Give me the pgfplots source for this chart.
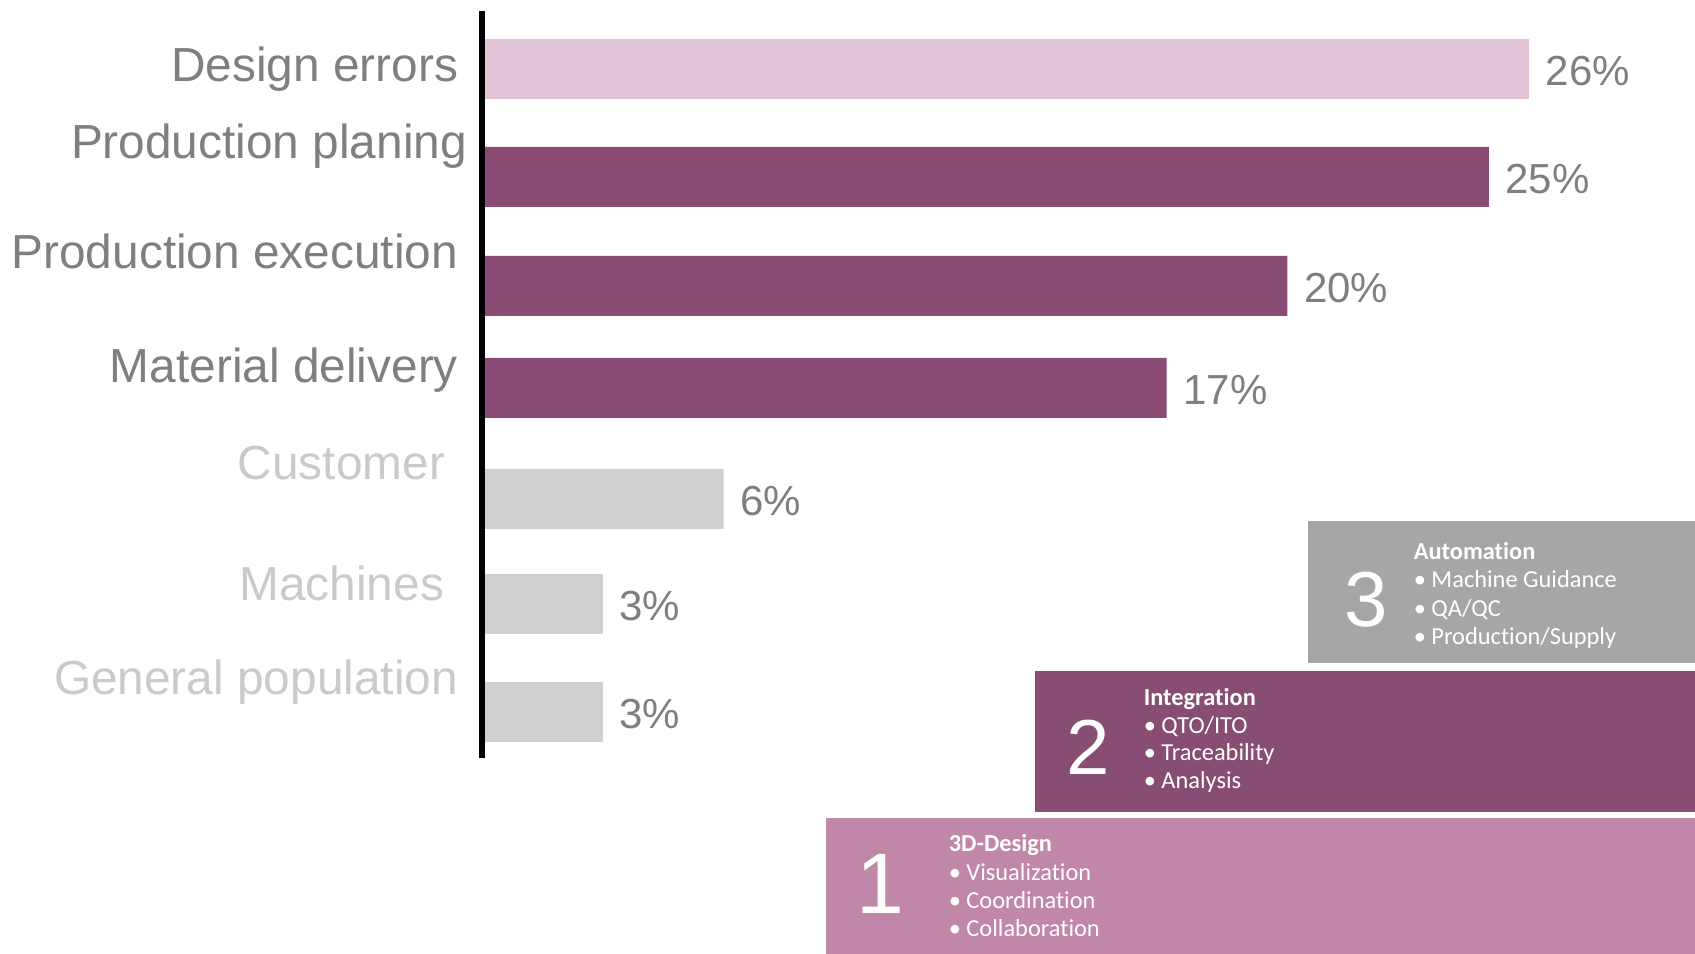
\documentclass[border=0pt]{standalone}
\usepackage{pgfplots}
\pgfplotsset{compat=1.18}
\usepackage{fontspec}
\setmainfont{Liberation Sans}
\newfontfamily\carlito[Ligatures=NoCommon]{Carlito}

\definecolor{barpink}{HTML}{E2C4D7}
\definecolor{barplum}{HTML}{8A4C74}
\definecolor{bargray}{HTML}{D0D0D0}
\definecolor{txtdark}{HTML}{7F7F7F}
\definecolor{txtlight}{HTML}{CACACA}
\definecolor{boxgray}{HTML}{A6A6A6}
\definecolor{boxplum}{HTML}{884D73}
\definecolor{boxpink}{HTML}{C087A8}

\begin{document}
\begin{tikzpicture}[x=0.25pt,y=0.25pt]
\useasboundingbox (0,0) rectangle (1695,954);

% step boxes
\fill[boxpink] (826,0) rectangle (1695,136);
\fill[boxplum] (1035,142) rectangle (1695,283);
\fill[boxgray] (1308,291) rectangle (1695,433);

\begin{axis}[
    at={(120.5pt,49pt)}, anchor=south west,
    scale only axis, width=302.03pt, height=186.75pt,
    xbar, bar width=60, bar shift=0pt,
    xmin=0, xmax=30, ymin=196, ymax=943,
    axis x line=none, axis y line*=left,
    axis line style={line width=1.3pt, black},
    axis on top,
    clip=false,
    ytick={872,795,685,571,474,353,259},
    yticklabels={
        \textcolor{txtdark}{Design errors},
        \textcolor{txtdark}{Production planing\hspace{-2.25pt}},
        \textcolor{txtdark}{Production execution},
        \textcolor{txtdark}{Material delivery},
        \textcolor{txtlight}{Customer\hspace{3.25pt}},
        \textcolor{txtlight}{Machines\hspace{3.5pt}},
        \textcolor{txtlight}{General population}},
    major tick length=0pt,
    yticklabel style={anchor=base east, inner sep=0pt, xshift=-5.8pt,
        font=\fontsize{11.95pt}{14pt}\selectfont},
    point meta=x,
    /pgf/number format/assume math mode=true,
    nodes near coords={\pgfmathprintnumber{\pgfplotspointmeta}\%},
    nodes near coords style={anchor=west, inner sep=0pt, xshift=4pt, yshift=-0.5pt,
        text=txtdark, font=\fontsize{10.5pt}{12pt}\selectfont},
]
\addplot[fill=barpink, draw=none] coordinates {(26,885)};
\addplot[fill=barplum, draw=none] coordinates {(25,777) (20,668) (17,566)};
\addplot[fill=bargray, draw=none] coordinates {(6,455) (3,350) (3,242)};
\end{axis}

% step numbers
\node[anchor=west, inner sep=0pt, text=white, font=\fontsize{19.5pt}{20pt}\selectfont] at (1344,354) {3};
\node[anchor=west, inner sep=0pt, text=white, font=\fontsize{19.5pt}{20pt}\selectfont] at (1066,207) {2};
\node[anchor=west, inner sep=0pt, text=white, font=\fontsize{21.5pt}{24pt}\selectfont] at (856,70) {1};

% step texts
\begin{scope}[every node/.style={anchor=base west, inner sep=0pt, text=white,
    font=\carlito\fontsize{6.1pt}{7pt}\selectfont}]
\node[font=\carlito\bfseries\fontsize{6.1pt}{7pt}\selectfont] at (1413,394) {Automation};
\node at (1413,366) {\textbullet\ Machine Guidance};
\node at (1413,337) {\textbullet\ QA/QC};
\node at (1413,309) {\textbullet\ Production/Supply};

\node[font=\carlito\bfseries\fontsize{6.1pt}{7pt}\selectfont] at (1143,248) {Integration};
\node at (1143,220) {\textbullet\ QTO/ITO};
\node at (1143,193) {\textbullet\ Traceability};
\node at (1143,165) {\textbullet\ Analysis};

\node[font=\carlito\bfseries\fontsize{6.1pt}{7pt}\selectfont] at (948,102) {3D-Design};
\node at (948,73) {\textbullet\ Visualization};
\node at (948,45) {\textbullet\ Coordination};
\node at (948,17) {\textbullet\ Collaboration};
\end{scope}
\end{tikzpicture}
\end{document}
